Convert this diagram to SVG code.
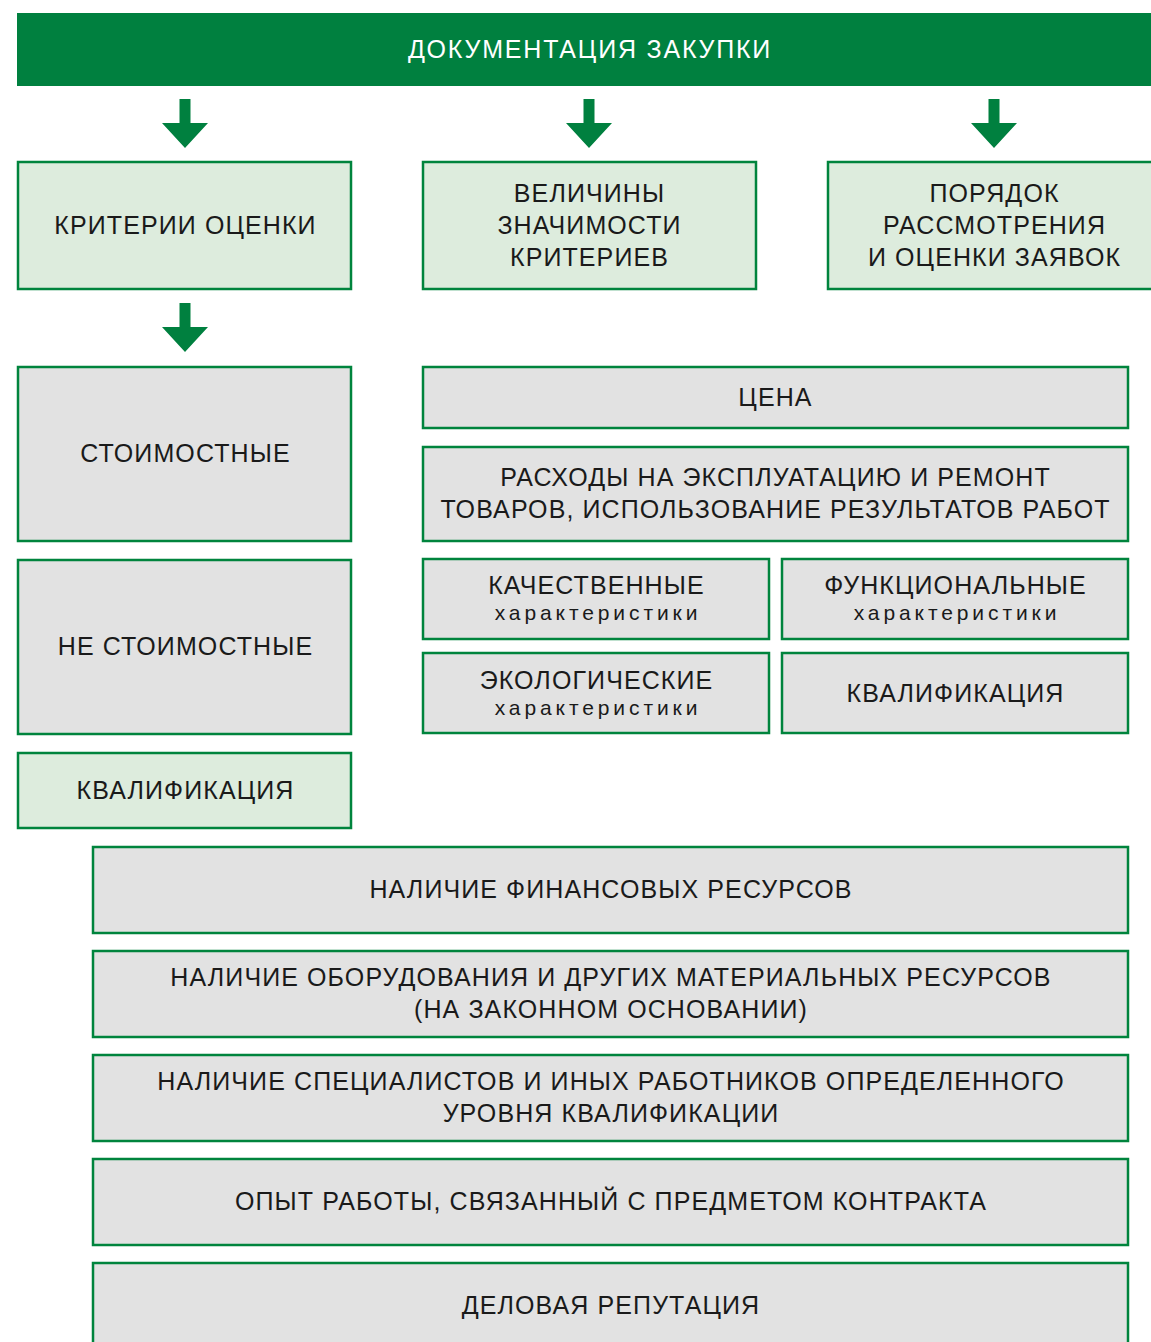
<svg xmlns="http://www.w3.org/2000/svg" width="1151" height="1342" viewBox="0 0 1151 1342">
<style>
.g{fill:#ddecdd;stroke:#00843d;stroke-width:2.5}
.s{fill:#e2e2e2;stroke:#00843d;stroke-width:2.5}
.t{font-family:"Liberation Sans",Arial,sans-serif;font-size:25px;letter-spacing:1.1px;fill:#1a1a1a;text-anchor:middle}
.sm{font-size:21px;letter-spacing:3.9px}
.w{fill:#ffffff;letter-spacing:1.8px}
.arr{fill:#00803f}
</style>
<rect x="0" y="0" width="1151" height="1342" fill="#ffffff"/>
<g id="banner">
<rect x="17" y="13" width="1140" height="73" fill="#00803f"/>
<text class="t w" x="590" y="58">ДОКУМЕНТАЦИЯ ЗАКУПКИ</text>
</g>
<g id="connectors">
<path class="arr" d="M179.5 99h11v24h17.5l-23 25-23-25h17.5z"/>
<path class="arr" d="M583.5 99h11v24h17.5l-23 25-23-25h17.5z"/>
<path class="arr" d="M988.5 99h11v24h17.5l-23 25-23-25h17.5z"/>
<path class="arr" d="M179.5 303h11v24h17.5l-23 25-23-25h17.5z"/>
</g>
<g id="n-kriterii"><rect class="g" x="18" y="162" width="333" height="127"/><text class="t" x="185.5" y="234">КРИТЕРИИ ОЦЕНКИ</text></g>
<g id="n-velichiny"><rect class="g" x="423" y="162" width="333" height="127"/><text class="t" x="589.5" y="202">ВЕЛИЧИНЫ</text><text class="t" x="589.5" y="234">ЗНАЧИМОСТИ</text><text class="t" x="589.5" y="266">КРИТЕРИЕВ</text></g>
<g id="n-poryadok"><rect class="g" x="828" y="162" width="340" height="127"/><text class="t" x="994.5" y="202">ПОРЯДОК</text><text class="t" x="994.5" y="234">РАССМОТРЕНИЯ</text><text class="t" x="994.5" y="266">И ОЦЕНКИ ЗАЯВОК</text></g>
<g id="n-stoim"><rect class="s" x="18" y="367" width="333" height="174"/><text class="t" x="185.5" y="462">СТОИМОСТНЫЕ</text></g>
<g id="n-nestoim"><rect class="s" x="18" y="560" width="333" height="174"/><text class="t" x="185.5" y="655">НЕ СТОИМОСТНЫЕ</text></g>
<g id="n-kval1"><rect class="g" x="18" y="753" width="333" height="75"/><text class="t" x="185.5" y="799">КВАЛИФИКАЦИЯ</text></g>
<g id="n-cena"><rect class="s" x="423" y="367" width="705" height="61"/><text class="t" x="775.5" y="406">ЦЕНА</text></g>
<g id="n-rashody"><rect class="s" x="423" y="447" width="705" height="94"/><text class="t" x="775.5" y="486">РАСХОДЫ НА ЭКСПЛУАТАЦИЮ И РЕМОНТ</text><text class="t" x="775.5" y="518">ТОВАРОВ, ИСПОЛЬЗОВАНИЕ РЕЗУЛЬТАТОВ РАБОТ</text></g>
<g id="n-kach"><rect class="s" x="423" y="559" width="346" height="80"/><text class="t" x="596.5" y="594">КАЧЕСТВЕННЫЕ</text><text class="t sm" x="598" y="620">характеристики</text></g>
<g id="n-func"><rect class="s" x="782" y="559" width="346" height="80"/><text class="t" x="955.5" y="594">ФУНКЦИОНАЛЬНЫЕ</text><text class="t sm" x="957" y="620">характеристики</text></g>
<g id="n-eko"><rect class="s" x="423" y="653" width="346" height="80"/><text class="t" x="596.5" y="689">ЭКОЛОГИЧЕСКИЕ</text><text class="t sm" x="598" y="715">характеристики</text></g>
<g id="n-kval2"><rect class="s" x="782" y="653" width="346" height="80"/><text class="t" x="955.5" y="702">КВАЛИФИКАЦИЯ</text></g>
<g id="n-fin"><rect class="s" x="93" y="847" width="1035" height="86"/><text class="t" x="611" y="898">НАЛИЧИЕ ФИНАНСОВЫХ РЕСУРСОВ</text></g>
<g id="n-obor"><rect class="s" x="93" y="951" width="1035" height="86"/><text class="t" x="611" y="986">НАЛИЧИЕ ОБОРУДОВАНИЯ И ДРУГИХ МАТЕРИАЛЬНЫХ РЕСУРСОВ</text><text class="t" x="611" y="1018">(НА ЗАКОННОМ ОСНОВАНИИ)</text></g>
<g id="n-spec"><rect class="s" x="93" y="1055" width="1035" height="86"/><text class="t" x="611" y="1090">НАЛИЧИЕ СПЕЦИАЛИСТОВ И ИНЫХ РАБОТНИКОВ ОПРЕДЕЛЕННОГО</text><text class="t" x="611" y="1122">УРОВНЯ КВАЛИФИКАЦИИ</text></g>
<g id="n-opyt"><rect class="s" x="93" y="1159" width="1035" height="86"/><text class="t" x="611" y="1210">ОПЫТ РАБОТЫ, СВЯЗАННЫЙ С ПРЕДМЕТОМ КОНТРАКТА</text></g>
<g id="n-rep"><rect class="s" x="93" y="1263" width="1035" height="100"/><text class="t" x="611" y="1314">ДЕЛОВАЯ РЕПУТАЦИЯ</text></g>
</svg>
